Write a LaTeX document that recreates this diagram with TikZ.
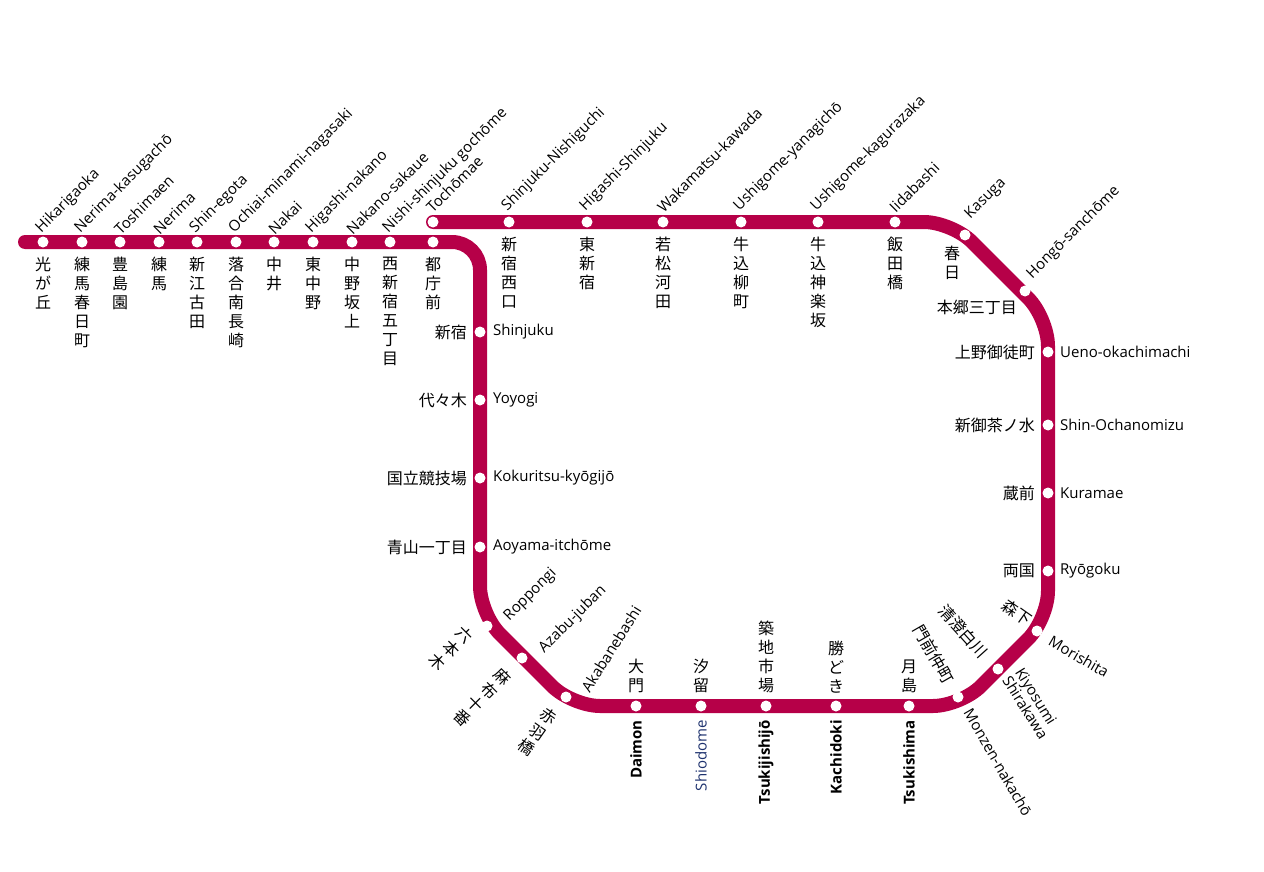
\documentclass[tikz,border=0pt]{standalone}
\usepackage{fontspec}
\setmainfont{Open Sans}
\newfontfamily\jp{Noto Sans CJK JP}
\definecolor{oedo}{RGB}{182,0,72}
\definecolor{navy}{RGB}{30,50,110}
\begin{document}
\begin{tikzpicture}[x=1pt,y=-1pt,
  en/.style={font=\fontsize{15}{16}\selectfont, inner sep=0pt},
  ja/.style={font=\fontsize{16}{19}\selectfont\jp, inner sep=0pt, align=center},
  stn/.style={circle, fill=white, minimum size=11pt, inner sep=0pt}]
\useasboundingbox (0,0) rectangle (1264,872);
\coordinate (a0) at (25,242);
\coordinate (a1) at (480,242);
\coordinate (a2) at (480,614);
\coordinate (a3) at (572,706);
\coordinate (a4) at (961,706);
\coordinate (a5) at (1048,619);
\coordinate (a6) at (1048,318);
\coordinate (a7) at (952,222);
\coordinate (a8) at (433,222);
\draw[oedo, line width=14pt, line cap=round, rounded corners=28pt]
  (a8) -- (a7) -- (a6) -- (a5) -- (a4) -- (a3) -- (a2) -- (a1) -- (a0);
% lower-left line stations
\foreach \n/\x/\e/\j in {s1/43/Hikarigaoka/光\\が\\丘, s2/82/Nerima-kasugachō/練\\馬\\春\\日\\町, s3/120/Toshimaen/豊\\島\\園, s4/159/Nerima/練\\馬, s5/197/Shin-egota/新\\江\\古\\田, s6/236/Ochiai-minami-nagasaki/落\\合\\南\\長\\崎, s7/274/Nakai/中\\井, s8/313/Higashi-nakano/東\\中\\野, s9/352/Nakano-sakaue/中\\野\\坂\\上, s10/390/Nishi-shinjuku gochōme/西\\新\\宿\\五\\丁\\目}{
  \node[stn] (\n) at (\x,242) {};
  \node[en, rotate=45, anchor=south west] at (\x+1,236) {\e};
  \node[ja, anchor=north] at (\x,257) {\j};
}
\node[stn] (s11) at (433,242) {};
\node[ja, anchor=north] at (433,257) {都\\庁\\前};
\node[stn] (t0) at (433,222) {};
\node[en, rotate=45, anchor=south west] at (433,214) {Tochōmae};
% top line
\foreach \n/\x/\e/\j in {t1/509/Shinjuku-Nishiguchi/新\\宿\\西\\口, t2/587/Higashi-Shinjuku/東\\新\\宿, t3/663/Wakamatsu-kawada/若\\松\\河\\田, t4/741/Ushigome-yanagichō/牛\\込\\柳\\町, t5/818/Ushigome-kagurazaka/牛\\込\\神\\楽\\坂, t6/895/Iidabashi/飯\\田\\橋}{
  \node[stn] (\n) at (\x,222) {};
  \node[en, rotate=45, anchor=south west] at (\x+1,214) {\e};
  \node[ja, anchor=north] at (\x,237) {\j};
}
\node[stn] (t7) at (965,235) {};
\node[en, rotate=45, anchor=south west] at (973,222) {Kasuga};
\node[ja, anchor=north] at (952,246) {春\\日};
\node[stn] (t8) at (1025,291) {};
\node[en, rotate=45, anchor=south west] at (1035,282) {Hongō-sanchōme};
\node[ja, anchor=east] at (1017,307) {本郷三丁目};
% right column
\foreach \n/\y/\e/\j in {r1/352/Ueno-okachimachi/上野御徒町, r2/425/Shin-Ochanomizu/新御茶ノ水, r3/493/Kuramae/蔵前, r4/571/Ryōgoku/両国}{
  \node[stn] (\n) at (1048,\y) {};
  \node[en, anchor=west] at (1060,\y) {\e};
  \node[ja, anchor=east] at (1035,\y) {\j};
}
% left column
\foreach \n/\y/\e/\j in {l1/332/Shinjuku/新宿, l2/400/Yoyogi/代々木, l3/478/Kokuritsu-kyōgijō/国立競技場, l4/547/Aoyama-itchōme/青山一丁目}{
  \node[stn] (\n) at (480,\y) {};
  \node[en, anchor=west] at (493,\y) {\e};
  \node[ja, anchor=east] at (467,\y) {\j};
}
% bottom-left diagonal
\node[stn] (d1) at (487,626) {};
\node[en, rotate=45, anchor=south west] at (512,624) {Roppongi};
\node[ja, rotate=-45, anchor=north] at (470,630) {六\\本\\木};
\node[stn] (d2) at (522,658) {};
\node[en, rotate=45, anchor=south west] at (547,656) {Azabu-juban};
\node[ja, rotate=-45, anchor=north] at (508,672) {麻\\布\\十\\番};
\node[stn] (d3) at (566,697) {};
\node[en, rotate=58, anchor=south west] at (590,694) {Akabanebashi};
\node[ja, rotate=-35, anchor=north] at (553,710) {赤\\羽\\橋};
% bottom
\foreach \n/\x/\e/\j/\f in {b1/636/Daimon/大\\門/\bfseries, b2/701/Shiodome/汐\\留/\color{navy}, b3/766/Tsukijishijō/築\\地\\市\\場/\bfseries, b4/836/Kachidoki/勝\\ど\\き/\bfseries, b5/909/Tsukishima/月\\島/\bfseries}{
  \node[stn] (\n) at (\x,706) {};
  \node[en, rotate=90, anchor=east] at (\x,720) {\f\e};
  \node[ja, anchor=south] at (\x,693) {\j};
}
% bottom-right diagonal
\node[stn] (e1) at (958,697) {};
\node[en, rotate=-60, anchor=west] at (968,710) {Monzen-nakachō};
\node[ja, rotate=-60, anchor=east] at (950,682) {門前仲町};
\node[stn] (e2) at (998,669) {};
\node[en, rotate=-58, anchor=north west, align=left, font=\fontsize{15}{15}\selectfont] at (1024,666) {Kiyosumi\\Shirakawa};
\node[ja, rotate=-48, anchor=east] at (985,655) {清澄白川};
\node[stn] (e3) at (1037,631) {};
\node[en, rotate=-30, anchor=west] at (1050,640) {Morishita};
\node[ja, rotate=-35, anchor=east] at (1030,622) {森下};
\end{tikzpicture}
\end{document}
